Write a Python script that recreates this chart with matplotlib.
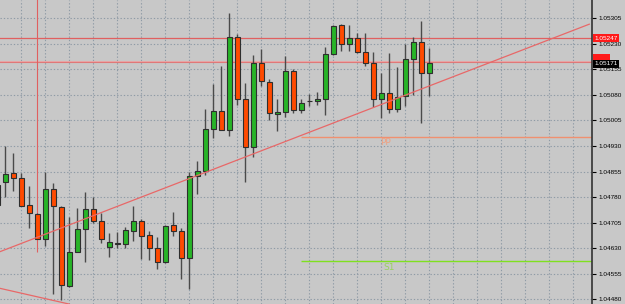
import numpy as np
import matplotlib
matplotlib.use("Agg")
from matplotlib import pyplot as plt
from matplotlib import transforms

# candles, one per bar, oldest first
opens = [1.04757, 1.04824, 1.04852, 1.04835, 1.04756, 1.04731, 1.04658, 1.04804, 1.04752, 1.04520,
         1.04620, 1.04687, 1.04745, 1.04711, 1.04634, 1.04645, 1.04643, 1.04680, 1.04711, 1.04668,
         1.04630, 1.04590, 1.04697, 1.04681, 1.04600, 1.04842, 1.04858, 1.04981, 1.05032, 1.04978,
         1.05249, 1.05067, 1.04926, 1.05175, 1.05117, 1.05023, 1.05031, 1.05149, 1.05036, 1.05062,
         1.05061, 1.05067, 1.05200, 1.05284, 1.05230, 1.05248, 1.05205, 1.05173, 1.05067, 1.05085,
         1.05040, 1.05077, 1.05186, 1.05235, 1.05144]
highs = [1.04824, 1.04931, 1.04910, 1.04852, 1.04814, 1.04732, 1.04855, 1.04822, 1.04754, 1.04723,
         1.04747, 1.04794, 1.04781, 1.04733, 1.04674, 1.04677, 1.04693, 1.04754, 1.04715, 1.04681,
         1.04664, 1.04697, 1.04737, 1.04690, 1.04853, 1.04885, 1.05040, 1.05112, 1.05165, 1.05321,
         1.05258, 1.05114, 1.05196, 1.05216, 1.05126, 1.05067, 1.05194, 1.05155, 1.05067, 1.05082,
         1.05089, 1.05222, 1.05285, 1.05288, 1.05285, 1.05263, 1.05261, 1.05207, 1.05145, 1.05202,
         1.05163, 1.05229, 1.05249, 1.05296, 1.05217]
lows = [1.04728, 1.04781, 1.04799, 1.04754, 1.04690, 1.04657, 1.04637, 1.04496, 1.04478, 1.04515,
        1.04618, 1.04590, 1.04705, 1.04644, 1.04603, 1.04630, 1.04630, 1.04652, 1.04598, 1.04595,
        1.04568, 1.04586, 1.04666, 1.04539, 1.04509, 1.04788, 1.04845, 1.04954, 1.04977, 1.04959,
        1.05051, 1.04825, 1.04899, 1.05106, 1.05006, 1.04975, 1.05014, 1.05028, 1.05028, 1.05048,
        1.05050, 1.05020, 1.05198, 1.05208, 1.05210, 1.05204, 1.05165, 1.05044, 1.05011, 1.05026,
        1.05031, 1.05048, 1.05080, 1.04999, 1.05077]
closes = [1.04816, 1.04848, 1.04835, 1.04755, 1.04733, 1.04658, 1.04804, 1.04755, 1.04521, 1.04620,
          1.04687, 1.04744, 1.04711, 1.04658, 1.04647, 1.04642, 1.04683, 1.04711, 1.04665, 1.04630,
          1.04590, 1.04696, 1.04680, 1.04600, 1.04842, 1.04858, 1.04980, 1.05032, 1.04978, 1.05249,
          1.05067, 1.04926, 1.05175, 1.05121, 1.05026, 1.05029, 1.05149, 1.05037, 1.05057, 1.05062,
          1.05068, 1.05199, 1.05282, 1.05230, 1.05248, 1.05205, 1.05173, 1.05067, 1.05085, 1.05040,
          1.05075, 1.05186, 1.05235, 1.05144, 1.05173]

price_ticks = [1.04480, 1.04555, 1.04630, 1.04705, 1.04780, 1.04855, 1.04930,
               1.05005, 1.05080, 1.05155, 1.05230, 1.05305]

level_red = 1.05247
ask_level = 1.05180
bid_level = 1.05176
bid_label = "1.05171"
pp_level = 1.04956
s1_level = 1.04591
pivot_start = 38          # bar where PP / S1 start
vline_bar = 5
vline_bottom = 1.04619
trend_x = [0, 74]
trend_y = [1.046168, 1.052877]
trend2_x = [0, 9]
trend2_y = [1.045140, 1.044659]

bg = "#c8c8c8"
up_col = "#28b428"
dn_col = "#ff4a00"
grid_col = "#8f9ba6"

fig = plt.figure(figsize=(6.25, 3.04), dpi=100, facecolor=bg)
ax = fig.add_axes([0, 0, 592 / 625, 1], facecolor=bg)

x = np.arange(len(opens))
o = np.array(opens); c = np.array(closes)
cols = [up_col if cc > oo else dn_col for oo, cc in zip(o, c)]

# grid
for gx in range(3, 75, 3):
    ax.axvline(gx, color=grid_col, lw=0.8, ls=(0, (1.2, 1.8)), zorder=0)
for gy in price_ticks:
    ax.axhline(gy, color=grid_col, lw=0.8, ls=(0, (1.2, 1.8)), zorder=0)

# objects
ax.axhline(level_red, color="#e06060", lw=0.9, zorder=1)
ax.axhline(ask_level, color="#e8a8a8", lw=0.8, zorder=1)
ax.axhline(bid_level, color="#e07878", lw=0.8, zorder=1)
ax.vlines(vline_bar, vline_bottom, 1.06, color="#e06060", lw=0.8, zorder=1)
ax.plot(trend_x, trend_y, color="#e86868", lw=0.9, zorder=3)
ax.plot(trend2_x, trend2_y, color="#e86868", lw=0.9, zorder=3)
ax.hlines(pp_level, pivot_start, 80, color="#f09070", lw=1.0, zorder=1)
ax.hlines(s1_level, pivot_start, 80, color="#80e020", lw=1.0, zorder=1)
ax.text(47.9, pp_level - 0.00003, "PP", color="#f0a080", fontsize=6.5, va="top", ha="left")
ax.text(48.2, s1_level - 0.00003, "S1", color="#98d060", fontsize=6.5, va="top", ha="left")

# candles
ax.vlines(x, lows, highs, color="#4a4a4a", lw=1.0, zorder=2)
ax.bar(x, c - o, bottom=o, width=0.66, color=cols, edgecolor="#2e2e2e", lw=0.8, zorder=2)

ax.set_xlim(0.3375, 74.34)
ax.set_ylim(1.044662, 1.053587)
ax.set_xticks([])
ax.yaxis.tick_right()
ax.set_yticks(price_ticks)
ax.set_yticklabels(["%.5f" % p for p in price_ticks], fontsize=4.6,
                   family="Liberation Sans")
ax.tick_params(axis="y", direction="out", length=3, width=0.8, pad=1.5, colors="black")
for s in ["top", "left", "bottom"]:
    ax.spines[s].set_visible(False)
ax.spines["right"].set_color("#333333")
ax.spines["right"].set_linewidth(1.2)

# price boxes on the axis
tr = transforms.blended_transform_factory(ax.transAxes, ax.transData)
ax.text(1.004, level_red, "%.5f" % level_red, transform=tr, fontsize=4.6, family="Liberation Sans",
        color="white", va="center", ha="left", clip_on=False, zorder=5,
        bbox=dict(boxstyle="square,pad=0.25", fc="#ff1a1a", ec="none"))
ax.text(1.004, bid_level + 0.00012, "       ", transform=tr, fontsize=4.6, color="white",
        va="center", ha="left", clip_on=False, zorder=5,
        bbox=dict(boxstyle="square,pad=0.25", fc="#ff1a1a", ec="none"))
ax.text(1.004, bid_level - 0.00005, bid_label, transform=tr, fontsize=4.6, family="Liberation Sans",
        color="white", va="center", ha="left", clip_on=False, zorder=6,
        bbox=dict(boxstyle="square,pad=0.25", fc="black", ec="none"))

fig.savefig("out.png", dpi=100, facecolor=bg)
